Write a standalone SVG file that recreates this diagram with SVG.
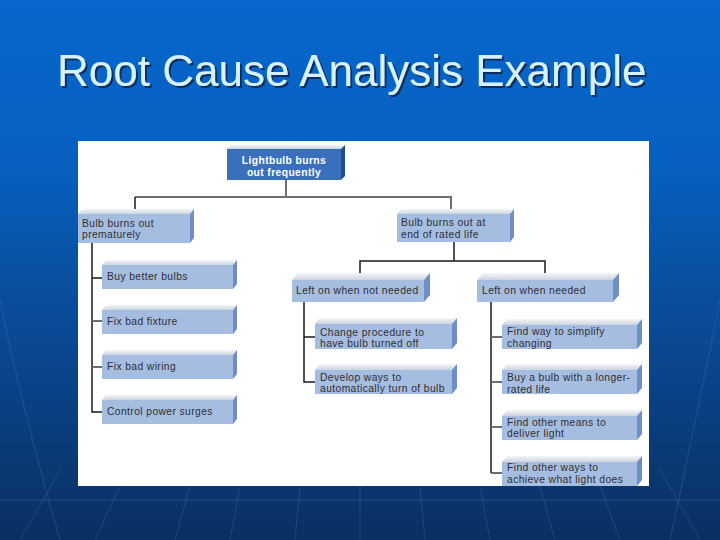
<svg xmlns="http://www.w3.org/2000/svg" width="720" height="540" viewBox="0 0 720 540">
<defs>
<linearGradient id="bg" x1="0" y1="0" x2="0" y2="1">
<stop offset="0" stop-color="#0767cc"/>
<stop offset="0.3" stop-color="#0760c0"/>
<stop offset="0.6" stop-color="#0a4a96"/>
<stop offset="1" stop-color="#0a2f62"/>
</linearGradient>
<linearGradient id="topface" x1="0" y1="0" x2="0" y2="1">
<stop offset="0" stop-color="#f4f6f9"/>
<stop offset="1" stop-color="#cdd4df"/>
</linearGradient>
<filter id="shadow" x="-5%" y="-20%" width="110%" height="150%">
<feDropShadow dx="2" dy="2" stdDeviation="0.6" flood-color="#0a2550" flood-opacity="0.85"/>
</filter>
<style>
.t{font-family:"Liberation Sans",Arial,sans-serif;font-size:10.3px;letter-spacing:0.4px;fill:#2e2e2e}
.rt{font-family:"Liberation Sans",Arial,sans-serif;font-size:10.3px;letter-spacing:0.4px;font-weight:bold;fill:#ffffff}
.front{fill:#a6bde2}
.side{fill:#6f8fc4}
.top{fill:url(#topface)}
.rfront{fill:#3a70bb}
.rside{fill:#1d4d92}
.ln{stroke:#1a1a1a;stroke-width:1.5;fill:none}
.lg{stroke:#6e6e6e;stroke-width:2;fill:none}
.faint{stroke:#5a8cd0;stroke-width:1;opacity:0.25;fill:none}
</style>
</defs>
<rect x="0" y="0" width="720" height="540" fill="url(#bg)"/>
<g id="background-lines">
<path class="faint" d="M190 486 L175 540 M240 486 L230 540 M300 486 L295 540 M360 486 L360 540 M420 486 L425 540 M480 486 L490 540 M540 486 L555 540 M600 486 L620 540 M120 486 L95 540 M60 470 L20 540 M660 470 L700 540 M0 300 Q20 400 60 540 M720 300 Q700 400 670 540 M0 500 L720 500"/>
</g>
<text x="57" y="86" font-family="'Liberation Sans',Arial,sans-serif" font-size="44" fill="#d6f2ff" filter="url(#shadow)">Root Cause Analysis Example</text>
<rect x="78" y="141" width="571" height="345" fill="#ffffff"/>

<g id="connectors">
<path class="lg" d="M286 180 V197 M135 197 H451 V211"/>
<path class="ln" d="M135 197 V211"/>
<path class="ln" d="M454 242 V261 M360 274 V261 H545 V274"/>
<path class="ln" d="M92 243 V412 H102 M92 278 H102"/>
<path class="lg" d="M92 321 H102 M92 367 H102"/>
<path class="ln" d="M304 302 V382 H315 M304 337 H315"/>
<path class="ln" d="M491 302 V473"/>
<path class="lg" d="M491 337 H502 M491 382 H502 M491 427 H502 M491 473 H502"/>
</g>

<g id="root">
<polygon class="top" points="227,149 231,145 345,145 341,149"/>
<polygon class="rside" points="341,149 345,145 345,176 341,180"/>
<rect class="rfront" x="227" y="149" width="114" height="31"/>
<text class="rt" x="284" y="164" text-anchor="middle">Lightbulb burns</text>
<text class="rt" x="284" y="175.5" text-anchor="middle">out frequently</text>
</g>

<g id="n-premature">
<polygon class="top" points="78,214 82,209 194,209 190,214"/>
<polygon class="side" points="190,214 194,209 194,238 190,243"/>
<rect class="front" x="78" y="214" width="112" height="29"/>
<text class="t" x="82" y="226.5">Bulb burns out</text>
<text class="t" x="82" y="238">prematurely</text>
</g>

<g id="n-ratedlife">
<polygon class="top" points="397,214 401,209 514,209 510,214"/>
<polygon class="side" points="510,214 514,209 514,237 510,242"/>
<rect class="front" x="397" y="214" width="113" height="28"/>
<text class="t" x="401" y="226">Bulb burns out at</text>
<text class="t" x="401" y="237.5">end of rated life</text>
</g>

<g id="n-notneeded">
<polygon class="top" points="292,280 298,273 430,273 424,280"/>
<polygon class="side" points="424,280 430,273 430,295 424,302"/>
<rect class="front" x="292" y="280" width="132" height="22"/>
<text class="t" x="296" y="294">Left on when not needed</text>
</g>

<g id="n-needed">
<polygon class="top" points="477,280 483,273 619,273 613,280"/>
<polygon class="side" points="613,280 619,273 619,295 613,302"/>
<rect class="front" x="477" y="280" width="136" height="22"/>
<text class="t" x="482" y="294">Left on when needed</text>
</g>

<g id="n-buybetter">
<polygon class="top" points="102,265 106,260 237,260 233,265"/>
<polygon class="side" points="233,265 237,260 237,284 233,289"/>
<rect class="front" x="102" y="265" width="131" height="24"/>
<text class="t" x="107" y="280">Buy better bulbs</text>
</g>

<g id="n-fixture">
<polygon class="top" points="102,310 106,305 237,305 233,310"/>
<polygon class="side" points="233,310 237,305 237,329 233,334"/>
<rect class="front" x="102" y="310" width="131" height="24"/>
<text class="t" x="107" y="325">Fix bad fixture</text>
</g>

<g id="n-wiring">
<polygon class="top" points="102,355 106,350 237,350 233,355"/>
<polygon class="side" points="233,355 237,350 237,374 233,379"/>
<rect class="front" x="102" y="355" width="131" height="24"/>
<text class="t" x="107" y="370">Fix bad wiring</text>
</g>

<g id="n-surges">
<polygon class="top" points="102,400 106,395 237,395 233,400"/>
<polygon class="side" points="233,400 237,395 237,419 233,424"/>
<rect class="front" x="102" y="400" width="131" height="24"/>
<text class="t" x="107" y="415">Control power surges</text>
</g>

<g id="n-procedure">
<polygon class="top" points="315,324 320,318 457,318 452,324"/>
<polygon class="side" points="452,324 457,318 457,343 452,349"/>
<rect class="front" x="315" y="324" width="137" height="25"/>
<text class="t" x="320" y="335.5">Change procedure to</text>
<text class="t" x="320" y="347">have bulb turned off</text>
</g>

<g id="n-automatic">
<polygon class="top" points="315,370 320,364 457,364 452,370"/>
<polygon class="side" points="452,370 457,364 457,388 452,394"/>
<rect class="front" x="315" y="370" width="137" height="24"/>
<text class="t" x="320" y="380.5">Develop ways to</text>
<text class="t" x="320" y="392">automatically turn of bulb</text>
</g>

<g id="n-simplify">
<polygon class="top" points="502,325 507,319 642,319 637,325"/>
<polygon class="side" points="637,325 642,319 642,343 637,349"/>
<rect class="front" x="502" y="325" width="135" height="24"/>
<text class="t" x="507" y="335">Find way to simplify</text>
<text class="t" x="507" y="346.5">changing</text>
</g>

<g id="n-longer">
<polygon class="top" points="502,370 507,364 642,364 637,370"/>
<polygon class="side" points="637,370 642,364 642,388 637,394"/>
<rect class="front" x="502" y="370" width="135" height="24"/>
<text class="t" x="507" y="381">Buy a bulb with a longer-</text>
<text class="t" x="507" y="392.5">rated life</text>
</g>

<g id="n-means">
<polygon class="top" points="502,416 507,410 642,410 637,416"/>
<polygon class="side" points="637,416 642,410 642,434 637,440"/>
<rect class="front" x="502" y="416" width="135" height="24"/>
<text class="t" x="507" y="425.5">Find other means to</text>
<text class="t" x="507" y="437">deliver light</text>
</g>

<g id="n-achieve">
<polygon class="top" points="502,462 507,456 642,456 637,462"/>
<polygon class="side" points="637,462 642,456 642,480 637,486"/>
<rect class="front" x="502" y="462" width="135" height="24"/>
<text class="t" x="507" y="471">Find other ways to</text>
<text class="t" x="507" y="482.5">achieve what light does</text>
</g>
</svg>
